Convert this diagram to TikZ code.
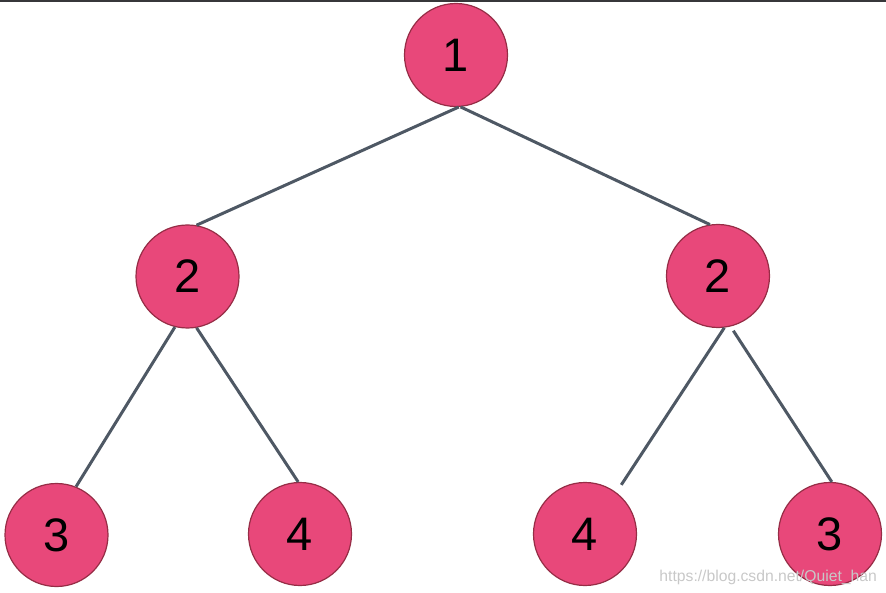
\documentclass[tikz,border=0pt]{standalone}
\usepackage{fontspec}
\setmainfont{Liberation Sans}
\definecolor{nodefill}{RGB}{232,72,122}
\definecolor{nodeborder}{RGB}{150,45,70}
\definecolor{edgecol}{RGB}{78,88,100}
\definecolor{topbar}{RGB}{55,55,58}
\definecolor{wmark}{RGB}{200,200,200}
\begin{document}
\begin{tikzpicture}[x=1pt,y=-1pt,
  tn/.style={circle, fill=nodefill, draw=nodeborder, line width=1.2pt,
    minimum size=103pt, inner sep=0pt, font=\fontsize{47}{47}\selectfont},
  edge/.style={draw=edgecol, line width=3pt},
  wm/.style={text=wmark, font=\fontsize{15.7}{15.7}\selectfont, inner sep=0pt, anchor=east}]
\useasboundingbox (0,0) rectangle (886,593);
\fill[topbar] (0,0) rectangle (886,2);
\node[tn] (n1) at (456,55) {1};
\node[tn] (a2) at (187.5,276.5) {2};
\node[tn] (b2) at (718,276) {2};
\node[tn] (a3) at (56.5,535) {3};
\node[tn] (a4) at (300,534) {4};
\node[tn] (b4) at (585,534) {4};
\node[tn] (b3) at (830,534) {3};
\draw[edge] (n1.-87) -- (a2.80);
\draw[edge] (n1.-85) -- (b2.99);
\draw[edge] (a2.-104) -- (a3.68);
\draw[edge] (a2.-80) -- (a4.92);
\draw[edge, shorten >=9pt] (b2.-83) -- (b4.53);
\draw[edge, shorten <=5pt] (b2.-76) -- (b3.88);
\node[wm] (wmk) at (877,577) {https://blog.csdn.net/Quiet\_han};
\end{tikzpicture}
\end{document}
